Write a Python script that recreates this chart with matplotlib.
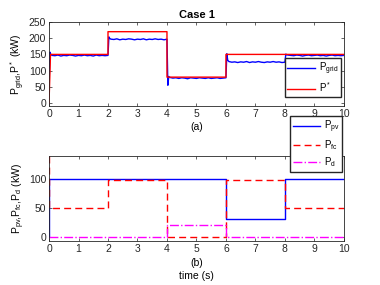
import matplotlib
matplotlib.use('Agg')
import matplotlib.pyplot as plt
import numpy as np

# ---- data ----
# (a) grid power, measured (blue) and reference (red)
t_grid = [0, 0.03, 0.06, 0.1, 0.2, 0.3, 0.4, 0.5, 0.6, 0.7, 0.8, 0.9, 1.0, 1.1, 1.2, 1.3,
          1.4, 1.5, 1.6, 1.7, 1.8, 1.9, 2.0,
          2.03, 2.06, 2.1, 2.2, 2.3, 2.4, 2.5, 2.6, 2.7, 2.8, 2.9, 3.0, 3.1, 3.2, 3.3,
          3.4, 3.5, 3.6, 3.7, 3.8, 3.9, 4.0,
          4.03, 4.06, 4.1, 4.2, 4.3, 4.4, 4.5, 4.6, 4.7, 4.8, 4.9, 5.0, 5.1, 5.2, 5.3,
          5.4, 5.5, 5.6, 5.7, 5.8, 5.9, 6.0,
          6.03, 6.06, 6.1, 6.2, 6.3, 6.4, 6.5, 6.6, 6.7, 6.8, 6.9, 7.0, 7.1, 7.2, 7.3,
          7.4, 7.5, 7.6, 7.7, 7.8, 7.9, 8.0,
          8.03, 8.06, 8.1, 8.2, 8.3, 8.4, 8.5, 8.6, 8.7, 8.8, 8.9, 9.0, 9.1, 9.2, 9.3,
          9.4, 9.5, 9.6, 9.7, 9.8, 9.9, 10.0]
p_grid = [50, 157, 150, 147, 146, 148, 145, 147, 146, 148, 147, 145, 147, 146, 148, 146,
          147, 145, 148, 146, 147, 146, 147,
          204, 199, 197, 196, 198, 195, 197, 196, 198, 197, 195, 197, 196, 198, 195,
          197, 196, 198, 196, 197, 195, 197,
          55, 82, 79, 77, 78, 76, 78, 77, 75, 78, 77, 76, 78, 77, 76,
          78, 76, 77, 78, 76, 77, 78,
          152, 132, 128, 126, 127, 125, 127, 126, 128, 125, 127, 126, 128, 126, 125,
          127, 126, 128, 126, 127, 125, 126,
          151, 149, 148, 147, 146, 148, 147, 145, 147, 148, 146, 147, 148, 146, 147,
          145, 147, 148, 146, 147, 146, 147]
t_ref = [0, 0.05, 2, 2, 4, 4, 6, 6, 8, 8, 10]
p_ref = [0, 150, 150, 220, 220, 80, 80, 150, 150, 150, 150]

# (b) pv, fuel cell and diesel power (step changes at these times)
t_b = [0, 2, 4, 6, 8, 10]
p_pv = [100, 100, 100, 30, 100, 100]
p_fc = [50, 98, 0, 98, 50, 50]
p_d = [0, 0, 20, 0, 0, 0]

plt.rcParams['font.family'] = 'Liberation Sans'
plt.rcParams['font.size'] = 7.5
plt.rcParams['mathtext.default'] = 'regular'
plt.rcParams['axes.linewidth'] = 0.6

fig = plt.figure(figsize=(3.8, 2.85), dpi=100)
ax1 = fig.add_axes([0.129, 0.628, 0.776, 0.295])
ax2 = fig.add_axes([0.129, 0.154, 0.776, 0.298])

for ax in (ax1, ax2):
    ax.tick_params(direction='in', length=2.5, width=0.5, top=True, right=True,
                   colors='#262626', pad=2)
    for s in ax.spines.values():
        s.set_color('#262626')
    ax.set_xlim(0, 10)
    ax.set_xticks(range(0, 11))

leg_kw = dict(fancybox=False, edgecolor='#262626', framealpha=1, handlelength=2.8,
              handletextpad=0.4, fontsize=7, borderpad=0.3, labelspacing=0.35,
              borderaxespad=0)

ax1.plot(t_grid, p_grid, color='#0000ff', lw=1.0, label='P$_{grid}$')
ax1.plot(t_ref, p_ref, color='#ff0000', lw=1.0, label='P$^*$')
ax1.set_ylim(-9, 250)
ax1.set_yticks(range(0, 251, 50))
ax1.set_title('Case 1', fontweight='bold', fontsize=8, pad=3)
ax1.set_ylabel('P$_{grid}$,P$^*$ (kW)', labelpad=1)
ax1.set_xlabel('(a)', labelpad=2)
ax1.legend(loc='lower right', bbox_to_anchor=(0.99, 0.105), **leg_kw)

# fuel cell start-up spike at t=0
ax2.step([0] + t_b, [0] + p_pv, where='post', color='#0000ff', lw=1.0, label='P$_{pv}$')
ax2.step([0] + t_b, [140] + p_fc, where='post', color='#ff0000', lw=1.0, ls='--',
         dashes=(5, 3), label='P$_{fc}$')
ax2.step(t_b, p_d, where='post', color='#ff00ff', lw=1.0, ls='-.', label='P$_d$')
ax2.set_ylim(-8, 140)
ax2.set_yticks([0, 50, 100])
ax2.set_ylabel('P$_{pv}$,P$_{fc}$,P$_d$ (kW)', labelpad=1)
ax2.set_xlabel('(b)\ntime (s)', labelpad=3, linespacing=1.4)
ax2.legend(loc='lower right', bbox_to_anchor=(0.995, 0.81), **leg_kw)

fig.savefig('out.png', dpi=100)
